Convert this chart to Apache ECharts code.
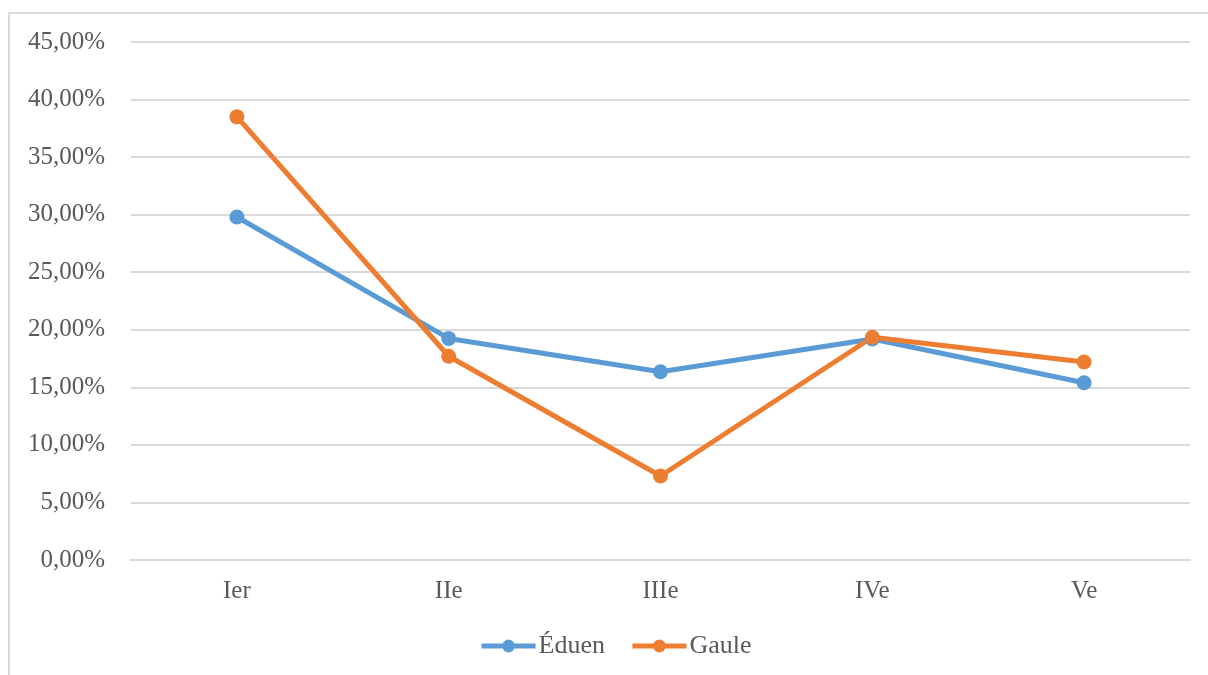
<!DOCTYPE html>
<html>
<head>
<meta charset="utf-8">
<script src="https://cdn.jsdelivr.net/npm/echarts@6/dist/echarts.min.js"></script>
<style>
  html, body { margin: 0; padding: 0; background: #fff; }
  #frame { position: absolute; left: 8px; top: 12px; width: 1300px; height: 800px;
           border-left: 2px solid #d9d9d9; border-top: 2px solid #d9d9d9; }
  #chart { position: absolute; left: 0; top: 0; width: 1208px; height: 675px; }
</style>
</head>
<body>
<div id="frame"></div>
<div id="chart"></div>
<script>
// siècles
var categories = ['Ier', 'IIe', 'IIIe', 'IVe', 'Ve'];
// parts en %
var eduen = [29.8, 19.25, 16.35, 19.2, 15.4];
var gaule = [38.5, 17.7, 7.3, 19.35, 17.2];

var serif = '"Liberation Serif", "DejaVu Serif", serif';

var option = {
    animation: false,
    grid: { left: 131, right: 18, top: 42, bottom: 115 },
    legend: {
        top: 628,
        left: 474,
        itemWidth: 54,
        itemHeight: 16,
        itemGap: 25,
        lineStyle: { width: 5 },
        textStyle: { fontFamily: serif, fontSize: 26, color: '#595959', padding: [0, 0, 0, -2] },
        data: ['Éduen', 'Gaule']
    },
    xAxis: {
        type: 'category',
        data: categories,
        axisLine: { show: true, lineStyle: { color: '#d9d9d9', width: 2 } },
        axisTick: { show: false },
        axisLabel: { fontFamily: serif, fontSize: 25, color: '#595959', margin: 19 }
    },
    yAxis: {
        type: 'value',
        min: 0,
        max: 45,
        interval: 5,
        axisLine: { show: false },
        axisTick: { show: false },
        splitLine: { lineStyle: { color: '#d9d9d9', width: 2 } },
        axisLabel: {
            fontFamily: serif, fontSize: 25, color: '#595959', margin: 26,
            formatter: function (v) { return v.toFixed(2).replace('.', ',') + '%'; }
        }
    },
    series: [
        {
            name: 'Éduen',
            type: 'line',
            data: eduen,
            symbol: 'circle',
            symbolSize: 15,
            lineStyle: { width: 5, color: '#5B9BD5' },
            itemStyle: { color: '#5B9BD5' }
        },
        {
            name: 'Gaule',
            type: 'line',
            data: gaule,
            symbol: 'circle',
            symbolSize: 15,
            lineStyle: { width: 5, color: '#ED7D31' },
            itemStyle: { color: '#ED7D31' }
        }
    ]
};

var myChart = echarts.init(document.getElementById('chart'));
myChart.setOption(option);
</script>
</body>
</html>
